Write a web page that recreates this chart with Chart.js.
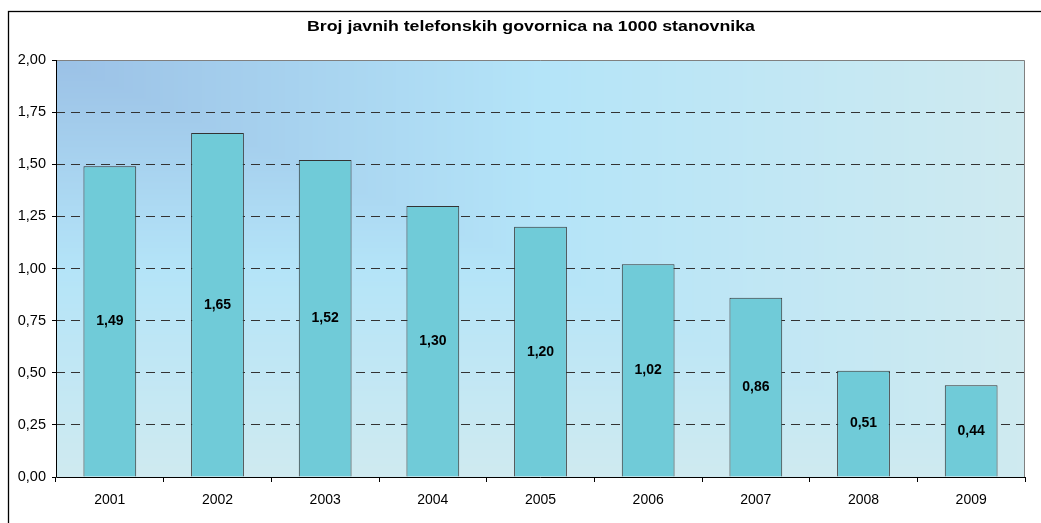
<!DOCTYPE html>
<html>
<head>
<meta charset="utf-8">
<script src="https://cdn.jsdelivr.net/npm/chart.js@4/dist/chart.umd.min.js"></script>
<style>
  html, body { margin: 0; padding: 0; background: #fff; }
  #wrap { width: 1041px; height: 523px; }
</style>
</head>
<body>
<div id="wrap"><canvas id="phoneChart" width="1041" height="523"></canvas></div>
<script>
const years = ["2001", "2002", "2003", "2004", "2005", "2006", "2007", "2008", "2009"];
const booths = [1.49, 1.65, 1.52, 1.30, 1.20, 1.02, 0.86, 0.51, 0.44];
const yTicks = [0, 0.25, 0.5, 0.75, 1, 1.25, 1.5, 1.75, 2];
const title = "Broj javnih telefonskih govornica na 1000 stanovnika";

const FONT = "'Liberation Sans', Arial, sans-serif";
const fmt = v => v.toFixed(2).replace('.', ',');

function mix(a, b, t) {
  return a.map((c, i) => c + (b[i] - c) * t);
}

// Excel-style "from corner" fill behind the plot
const bgPlugin = {
  id: 'bg',
  beforeDraw(chart) {
    const { ctx, chartArea: a } = chart;
    const w = Math.round(a.right - a.left), h = Math.round(a.bottom - a.top);
    const img = ctx.createImageData(w, h);
    const c0 = [155, 193, 230], c1 = [180, 228, 248], c2 = [207, 234, 240];
    for (let y = 0; y < h; y++) {
      for (let x = 0; x < w; x++) {
        const t = Math.max(x / w, y / h);
        const c = t < 0.5 ? mix(c0, c1, t / 0.5) : mix(c1, c2, (t - 0.5) / 0.5);
        const k = (y * w + x) * 4;
        img.data[k] = c[0]; img.data[k + 1] = c[1]; img.data[k + 2] = c[2]; img.data[k + 3] = 255;
      }
    }
    ctx.putImageData(img, Math.round(a.left), Math.round(a.top));

    ctx.save();
    ctx.strokeStyle = '#000';
    ctx.lineWidth = 1.3;
    ctx.strokeRect(8.5, 11.5, 1050, 530);
    // title is stretched a bit wider than the font, like the original image
    ctx.fillStyle = '#000';
    ctx.font = 'bold 15px ' + FONT;
    ctx.textBaseline = 'middle';
    const tw = ctx.measureText(title).width;
    ctx.translate(531, 27);
    ctx.scale(448 / tw, 1);
    ctx.textAlign = 'center';
    ctx.fillText(title, 0, 0);
    ctx.restore();
  },
  afterDatasetsDraw(chart) {
    const { ctx, chartArea: a } = chart;
    ctx.save();
    ctx.lineWidth = 1;
    ctx.strokeStyle = '#808080';
    ctx.beginPath();
    ctx.moveTo(a.left, a.top + 0.5);
    ctx.lineTo(a.right - 0.5, a.top + 0.5);
    ctx.lineTo(a.right - 0.5, a.bottom);
    ctx.stroke();
    ctx.strokeStyle = '#000';
    ctx.beginPath();
    ctx.moveTo(a.left + 0.5, a.top);
    ctx.lineTo(a.left + 0.5, a.bottom + 0.5);
    ctx.lineTo(a.right, a.bottom + 0.5);
    ctx.stroke();

    const meta = chart.getDatasetMeta(0);
    ctx.fillStyle = '#000';
    ctx.font = 'bold 14px ' + FONT;
    ctx.textAlign = 'center';
    ctx.textBaseline = 'middle';
    meta.data.forEach((bar, i) => {
      ctx.fillText(fmt(booths[i]), bar.x, (bar.y + bar.base) / 2);
    });
    ctx.restore();
  }
};

new Chart(document.getElementById('phoneChart'), {
  type: 'bar',
  data: {
    labels: years,
    datasets: [{
      data: booths,
      backgroundColor: '#70cbd8',
      borderColor: '#333',
      borderWidth: 1,
      barPercentage: 0.49,
      categoryPercentage: 1
    }]
  },
  options: {
    responsive: false,
    animation: false,
    devicePixelRatio: 1,
    layout: { padding: { top: 60, right: 16, left: 0, bottom: 0 } },
    plugins: {
      legend: { display: false },
      title: { display: false },
      tooltip: { enabled: false }
    },
    scales: {
      x: {
        afterFit(s) { s.height = 46; },
        grid: {
          offset: true,
          drawOnChartArea: false,
          drawTicks: true,
          tickLength: 5,
          tickColor: '#000'
        },
        border: { display: false },
        ticks: { color: '#000', padding: 10, font: { family: FONT, size: 14 } }
      },
      y: {
        min: 0,
        max: 2,
        afterFit(s) { s.width = 56; },
        afterBuildTicks(s) { s.ticks = yTicks.map(v => ({ value: v })); },
        grid: {
          color: ctx => (ctx.tick && (ctx.tick.value === 0 || ctx.tick.value === 2)) ? 'rgba(0,0,0,0)' : '#333',
          lineWidth: 1,
          drawTicks: true,
          tickLength: 4,
          tickColor: '#000',
          tickBorderDash: []
        },
        border: { display: false, dash: [9, 6] },
        ticks: {
          color: '#000',
          padding: 6,
          font: { family: FONT, size: 14.5 },
          callback: v => fmt(v)
        }
      }
    }
  },
  plugins: [bgPlugin]
});
</script>
</body>
</html>
